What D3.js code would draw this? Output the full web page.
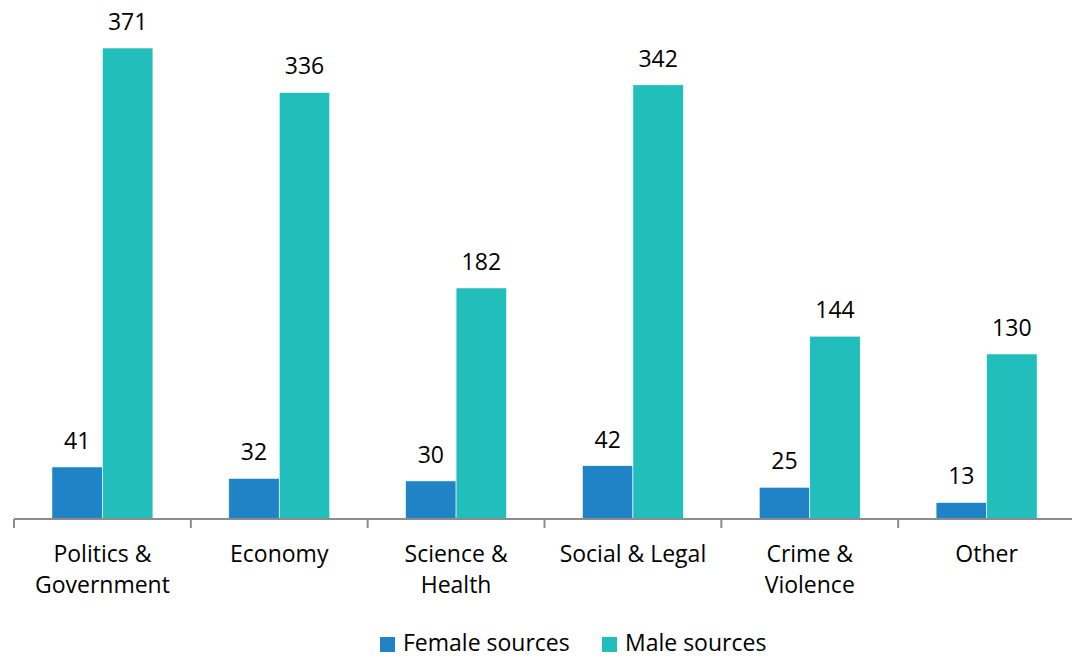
<!DOCTYPE html>
<html><head><meta charset="utf-8">
<script src="https://cdn.jsdelivr.net/npm/d3@7"></script>
<style>body{margin:0;background:#fff}svg{display:block}text{font-family:"Open Sans",sans-serif;fill:#000}</style>
</head><body><svg id="c" width="1072" height="658"></svg>
<script>
const categories = [["Politics &","Government"],["Economy"],["Science &","Health"],["Social & Legal"],["Crime &","Violence"],["Other"]];
const seriesNames = ["Female sources","Male sources"];
const female = [41,32,30,42,25,13];
const male = [371,336,182,342,144,130];
const colors = ["#1f83c6","#21bebc"];

const svg = d3.select("#c");
const baseY = 519;
const fs = "23px";
const x0 = d3.scaleBand().domain(d3.range(categories.length)).range([14,1075]);
const x1 = d3.scaleBand().domain([0,1]).range([0,101]);
const y = d3.scaleLinear().domain([0,371]).range([baseY,48]);
const data = categories.map((c,i)=>({i, vals:[female[i],male[i]]}));

const grp = svg.append("g").selectAll("g.cat").data(data).join("g")
  .attr("transform",d=>`translate(${x0(d.i)+(x0.bandwidth()-101)/2},0)`);
grp.selectAll("rect").data(d=>d.vals.map((v,k)=>({v,k}))).join("rect")
  .attr("x",d=>x1(d.k)).attr("width",x1.bandwidth())
  .attr("y",d=>y(d.v)).attr("height",d=>baseY-y(d.v))
  .attr("fill",d=>colors[d.k]).attr("stroke","#fff").attr("stroke-width",0.6);
grp.selectAll("text.v").data(d=>d.vals.map((v,k)=>({v,k}))).join("text")
  .attr("class","v").attr("x",d=>x1(d.k)+x1.bandwidth()/2).attr("y",d=>y(d.v)-18)
  .attr("text-anchor","middle").style("font-size",fs).text(d=>d.v);

// axis
const axis = svg.append("g").attr("transform",`translate(0,${baseY})`)
  .call(d3.axisBottom(x0).tickSize(0).tickFormat(""));
axis.select(".domain").attr("stroke","#8c8c8c").attr("stroke-width",2).attr("d","M14,0H1072");
const tickXs = d3.range(categories.length).map(i=>x0(i));
axis.selectAll("line.t").data(tickXs).join("line").attr("class","t")
  .attr("x1",d=>d).attr("x2",d=>d).attr("y1",0).attr("y2",9)
  .attr("stroke","#8c8c8c").attr("stroke-width",2);

const lab = svg.append("g");
categories.forEach((c,i)=>{
  const cx = x0(i)+x0.bandwidth()/2;
  const t = lab.append("text").attr("text-anchor","middle")
    .attr("x",cx).attr("y",562).style("font-size",fs);
  c.forEach((line,j)=>t.append("tspan").attr("x",cx).attr("dy",j?31:0).text(line));
});

// legend
const leg = svg.append("g");
const legX = [380,602];
seriesNames.forEach((n,k)=>{
  leg.append("rect").attr("x",legX[k]).attr("y",637).attr("width",15).attr("height",15).attr("fill",colors[k]);
  leg.append("text").attr("x",legX[k]+23).attr("y",651).style("font-size",fs).text(n);
});
</script></body></html>
